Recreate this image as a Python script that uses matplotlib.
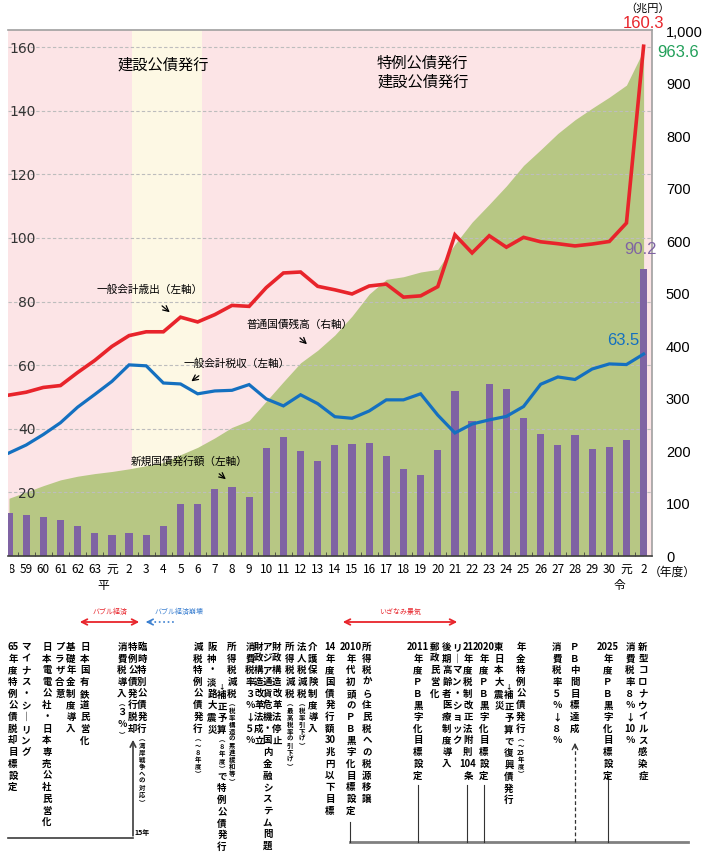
import matplotlib
matplotlib.use('Agg')
import matplotlib.pyplot as plt
from matplotlib.transforms import Bbox, TransformedBbox, IdentityTransform
import numpy as np

plt.rcParams['font.family'] = ['Noto Sans CJK JP', 'DejaVu Sans']

# ---- data (兆円) ----
years = ['58', '59', '60', '61', '62', '63', '元'] + [str(i) for i in range(2, 31)] + ['元', '2']
expenditure = [50.6, 51.5, 53.0, 53.6, 57.7, 61.5,
               65.9, 69.3, 70.5, 70.5, 75.1, 73.6, 75.9, 78.8, 78.5, 84.4,
               89.0, 89.3, 84.8, 83.7, 82.4, 84.9, 85.5, 81.4, 81.8, 84.7,
               101.0, 95.3, 100.7, 97.1, 100.2, 98.8, 98.2, 97.5, 98.1, 98.9,
               104.7, 160.3]
tax = [32.4, 34.9, 38.2, 41.9, 46.8, 50.8,
       54.9, 60.1, 59.8, 54.4, 54.1, 51.0, 51.9, 52.1, 53.9, 49.4,
       47.2, 50.7, 47.9, 43.8, 43.3, 45.6, 49.1, 49.1, 51.0, 44.3,
       38.7, 41.5, 42.8, 43.9, 47.0, 54.0, 56.3, 55.5, 58.8, 60.4,
       60.2, 63.5]
bonds = [13.5, 12.8, 12.3, 11.3, 9.4, 7.2,
         6.6, 7.3, 6.7, 9.5, 16.2, 16.5, 21.2, 21.7, 18.5, 34.0,
         37.5, 33.0, 30.0, 35.0, 35.3, 35.5, 31.3, 27.5, 25.4, 33.2,
         52.0, 42.3, 54.0, 52.5, 43.5, 38.5, 34.9, 38.0, 33.6, 34.4,
         36.6, 90.2]
debt = [110, 122, 134, 145, 152, 157,
        161, 166, 172, 178, 193, 207, 225, 245, 258, 295,
        332, 368, 392, 421, 457, 499, 527, 532, 541, 546,
        594, 636, 670, 705, 744, 774, 805, 831, 853, 874,
        897, 963.6]

PINK = '#fce4e6'
YELLOW = '#fdf8e4'
GREEN = '#b7c784'
PURPLE = '#7f63a3'
RED = '#e8242b'
BLUE = '#1470c0'

x = np.arange(len(years))

fig = plt.figure(figsize=(7.09, 8.67), dpi=100)
ax = fig.add_axes([8 / 709, 311 / 867, 644 / 709, 526 / 867])
ax2 = ax.twinx()
ax.set_zorder(ax2.get_zorder() + 1)
ax.patch.set_visible(False)
ax2.patch.set_visible(True)
ax2.patch.set_facecolor(PINK)

# background band + debt area on the right axis
ax2.axvspan(7.17, 11.25, color=YELLOW, lw=0, zorder=0)
ax2.fill_between(x, debt, color=GREEN, lw=0, zorder=1)

# bars and lines on the left axis
ax.bar(x, bonds, width=0.42, color=PURPLE, zorder=2)
ax.plot(x, expenditure, color=RED, lw=2.6, zorder=3, solid_joinstyle='miter')
ax.plot(x, tax, color=BLUE, lw=2.3, zorder=3, solid_joinstyle='miter')

ax.set_xlim(-0.058, 37.49)
ax.set_ylim(0, 165.4)
ax2.set_ylim(0, 1002)

ax.set_yticks(range(20, 161, 20))
ax.yaxis.grid(True, ls=(0, (3, 2)), color='#bdbdbd', lw=0.8)
ax.set_axisbelow(True)
ax.tick_params(axis='y', length=0, pad=-20, labelsize=10, labelcolor='#333333')
for lbl in ax.get_yticklabels():
    lbl.set_ha('right')
    lbl.set_family('DejaVu Sans')

ax2.set_yticks(range(0, 1001, 100))
ax2.set_yticklabels([f'{v:,}' for v in range(0, 1001, 100)])
ax2.tick_params(axis='y', length=0, pad=10, labelsize=10.5)
for lbl in ax2.get_yticklabels():
    lbl.set_family('Liberation Sans')

ax.set_xticks(x)
ax.set_xticklabels(years)
ax.tick_params(axis='x', length=0, pad=5, labelsize=8.5)
ax.set_xticks(np.arange(0.5, 37, 1), minor=True)
ax.tick_params(axis='x', which='minor', direction='in', length=3, color='#404040')
# the first label is cut at the left edge in the original
first = ax.xaxis.get_major_ticks()[0].label1
first.set_clip_on(True)
first.set_clip_box(TransformedBbox(Bbox.from_extents(9.5, 0, 709, 867), IdentityTransform()))

for s in ax2.spines.values():
    s.set_visible(False)
ax.spines['left'].set_visible(False)
ax.spines['top'].set_color('#a0a0a0')
ax.spines['right'].set_color('#a0a0a0')
ax.spines['bottom'].set_color('#404040')
for s in ('top', 'right', 'bottom'):
    ax.spines[s].set_linewidth(1.2)

# text inside the plot
ax.text(8.98, 154.4, '建設公債発行', fontsize=11, ha='center', va='center')
ax.text(21.46, 152.0, '特例公債発行\n建設公債発行', fontsize=11, ha='left', va='center',
        linespacing=1.1)

notes = [
    ('一般会計歳出（左軸）', 8.22, 83.6, (8.80, 79.2), (9.50, 76.1)),
    ('普通国債残高（右軸）', 16.94, 72.6, (16.85, 69.2), (17.49, 66.0)),
    ('一般会計税収（左軸）', 13.27, 60.4, (11.2, 57.2), (10.5, 54.4)),
    ('新規国債発行額（左軸）', 10.5, 29.9, (12.13, 26.4), (12.77, 23.6)),
]
for label, tx, ty, a0, a1 in notes:
    ax.text(tx, ty, label, fontsize=7.7, ha='center', va='center', zorder=6)
    ax.annotate('', xy=a1, xytext=a0, zorder=6,
                arrowprops=dict(arrowstyle='->', color='black', lw=0.9))

ax.text(37.0, 167.3, '160.3', color=RED, fontsize=12, ha='center', va='center',
        family='Liberation Sans', clip_on=False)
ax2.text(39.0, 960, '963.6', color='#22a05a', fontsize=12, ha='center', va='center',
         family='Liberation Sans', clip_on=False)
ax.text(36.8, 96.5, '90.2', color=PURPLE, fontsize=12, ha='center', va='center',
        family='Liberation Sans')
ax.text(35.8, 67.9, '63.5', color=BLUE, fontsize=12, ha='center', va='center',
        family='Liberation Sans')

# ---- overlay in pixel coordinates for the notes below the chart ----
axb = fig.add_axes([0, 0, 1, 1], zorder=5)
axb.set_xlim(0, 709)
axb.set_ylim(867, 0)
axb.axis('off')

axb.text(648, 8, '（兆円）', fontsize=8, ha='center', va='center')
axb.text(672, 572, '（年度）', fontsize=8.5, ha='center', va='center')
axb.text(103, 585, '平', fontsize=8.5, ha='center', va='center')
axb.text(619, 585, '令', fontsize=8.5, ha='center', va='center')


def vcol(xc, ytop, s, fs=6.8, pitch=11.7, color='black'):
    """Vertical Japanese text: {..} small, digit runs kept horizontal."""
    small = False
    y = ytop
    i = 0
    while i < len(s):
        c = s[i]
        if c == '{':
            small = True
            i += 1
            continue
        if c == '}':
            small = False
            i += 1
            continue
        if c.isascii() and c.isdigit():
            j = i
            while j < len(s) and s[j].isascii() and s[j].isdigit():
                j += 1
            tok = s[i:j]
            i = j
        else:
            tok = c
            i += 1
        f = fs * 0.68 if small else fs
        p = pitch * 0.6 if small else pitch
        axb.text(xc, y + p / 2, tok, fontsize=f, ha='center', va='center',
                 color=color, fontweight='bold')
        y += p


TOP = 641
columns = [
    (13, TOP, '65年度特例公債脱却目標設定'),
    (26, TOP, 'マイナス・シ｜リング'),
    (47, TOP, '日本電電公社・日本専売公社民営化'),
    (60, TOP, 'プラザ合意'),
    (71, TOP, '基礎年金制度導入'),
    (85, TOP, '日本国有鉄道民営化'),
    (122, TOP, '消費税導入{︵}３％{︶}'),
    (133, TOP, '特例公債発行脱却'),
    (142, TOP, '臨時特別公債発行{︵湾岸戦争への対応︶}'),
    (198, TOP, '減税特例公債発行{︵～８年度︶}'),
    (212, TOP, '阪神・淡路大震災'),
    (222, TOP + 3.5 * 11.7, '{↓}補正予算{︵８年度︶}で特例公債発行'),
    (232, TOP, '所得税減税{︵税率構造の累進緩和等︶}'),
    (250, TOP, '消費税率３％↓５％'),
    (259, TOP, '財政構造改革法成立'),
    (267.5, TOP, 'アジア通貨危機・国内金融システム問題'),
    (277, TOP, '財政構造改革法停止'),
    (290, TOP, '所得税減税{︵最高税率の引下げ︶}'),
    (302, TOP, '法人税減税{︵税率引下げ︶}'),
    (313, TOP, '介護保険制度導入'),
    (330, TOP, '14年度国債発行額30兆円以下目標'),
    (351, TOP, '2010年代初頭のＰＢ黒字化目標設定'),
    (367, TOP, '所得税から住民税への税源移譲'),
    (418, TOP, '2011年度ＰＢ黒字化目標設定'),
    (435, TOP, '郵政民営化'),
    (447, TOP, '後期高齢者医療制度導入'),
    (457, TOP, 'リ｜マン・ショック'),
    (468, TOP, '21年度税制改正法附則104条'),
    (484, TOP, '2020年度ＰＢ黒字化目標設定'),
    (499, TOP, '東日本大震災'),
    (509, TOP + 3.5 * 11.7, '{↓}補正予算で復興債発行'),
    (521, TOP, '年金特例公債発行{︵～25年度︶}'),
    (557, TOP, '消費税率５％↓８％'),
    (575, TOP, 'ＰＢ中間目標達成'),
    (608, TOP, '2025年度ＰＢ黒字化目標設定'),
    (630, TOP, '消費税率８％↓10％'),
    (643, TOP, '新型コロナウイルス感染症'),
]
for xc, yt, s in columns:
    vcol(xc, yt, s)

# economic periods
axb.annotate('', xy=(77, 622), xytext=(142, 622),
             arrowprops=dict(arrowstyle='<->', color='#e8242b', lw=1.3))
axb.text(110, 612, 'バブル経済', fontsize=5, color='#e8242b', ha='center', va='center')
axb.plot([150, 176], [622, 622], ls=':', color='#3a7fd0', lw=1.2)
axb.annotate('', xy=(143, 622), xytext=(152, 622),
             arrowprops=dict(arrowstyle='->', color='#3a7fd0', lw=1.2))
axb.text(179, 612, 'バブル経済崩壊', fontsize=5, color='#3a7fd0', ha='center', va='center')
axb.annotate('', xy=(340, 622), xytext=(460, 622),
             arrowprops=dict(arrowstyle='<->', color='#e8242b', lw=1.3))
axb.text(400, 612, 'いざなみ景気', fontsize=5, color='#e8242b', ha='center', va='center')

# timeline lines
axb.plot([8, 133], [838, 838], color='#3c3c3c', lw=1.2)
axb.annotate('', xy=(133, 737), xytext=(133, 838.6),
             arrowprops=dict(arrowstyle='->', color='#3c3c3c', lw=1.2))
axb.text(142, 833, '15年', fontsize=5, ha='center', va='center', fontweight='bold')

axb.plot([350, 688], [842, 842], color='#808080', lw=2)
for xv, y0 in [(350, 822), (418, 785), (467, 785), (484, 785), (608, 777)]:
    axb.plot([xv, xv], [y0, 842], color='#333333', lw=0.8)
axb.plot([575, 575], [842, 746], color='#333333', lw=0.9, ls=(0, (3, 2)))
axb.annotate('', xy=(575, 740), xytext=(575, 750),
             arrowprops=dict(arrowstyle='->', color='#333333', lw=0.9))

fig.savefig('out.png', dpi=100)
